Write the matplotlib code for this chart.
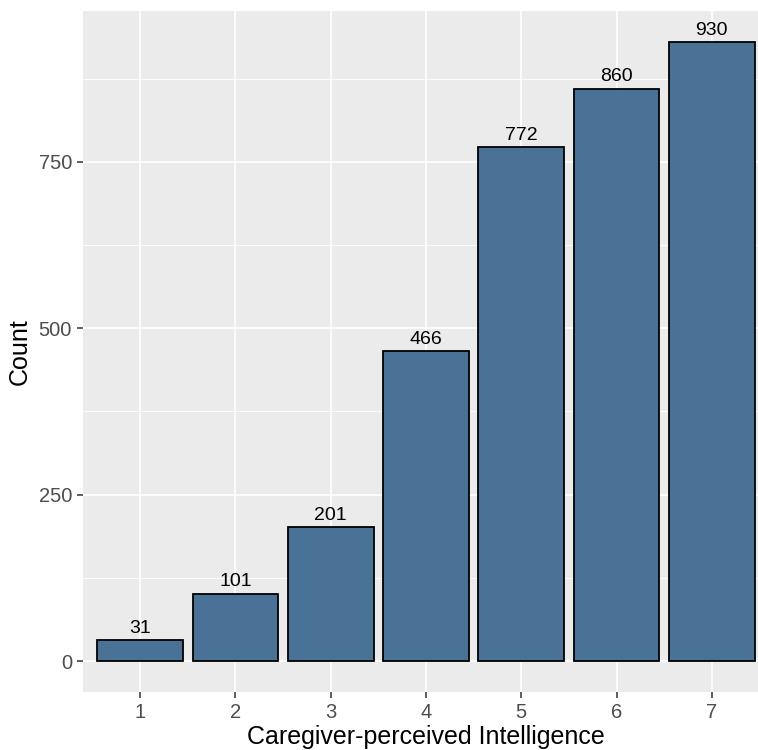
import matplotlib.pyplot as plt
from matplotlib.ticker import MultipleLocator

# bar data
categories = [1, 2, 3, 4, 5, 6, 7]
counts = [31, 101, 201, 466, 772, 860, 930]
y_ticks = [0, 250, 500, 750]

plt.rcParams['font.family'] = ['Liberation Sans', 'DejaVu Sans']

fig = plt.figure(figsize=(7.58, 7.5), dpi=100)
ax = fig.add_axes([83 / 758, 58 / 750, 675 / 758, 681 / 750])

ax.set_facecolor('#EBEBEB')
ax.set_axisbelow(True)

ax.bar(categories, counts, width=0.9, color='#4a7196', edgecolor='black', linewidth=1.3)
for x, v in zip(categories, counts):
    ax.text(x, v + 5, str(v), ha='center', va='bottom', fontsize=14, color='black')

# ggplot-like limits (panel is cropped at the right edge)
xmin, xmax = 0.4, 7.485
ax.set_xlim(xmin, xmax)
ax.set_ylim(-46.5, 976.5)

ax.set_xticks(categories)
ax.set_yticks(y_ticks)
ax.yaxis.set_minor_locator(MultipleLocator(125))
ax.grid(which='major', color='white', linewidth=1.2)
ax.grid(which='minor', axis='y', color='white', linewidth=0.6)
ax.tick_params(which='minor', length=0)
ax.tick_params(which='major', length=4, width=1.1, color='#333333',
               labelsize=14.5, labelcolor='#4D4D4D', pad=4)

for s in ax.spines.values():
    s.set_visible(False)

ax.set_xlabel('Caregiver-perceived Intelligence', fontsize=18, labelpad=2)
ax.xaxis.label.set_x((4 - xmin) / (xmax - xmin))
ax.set_ylabel('Count', fontsize=18, labelpad=5)

fig.savefig('out.png', dpi=100)
